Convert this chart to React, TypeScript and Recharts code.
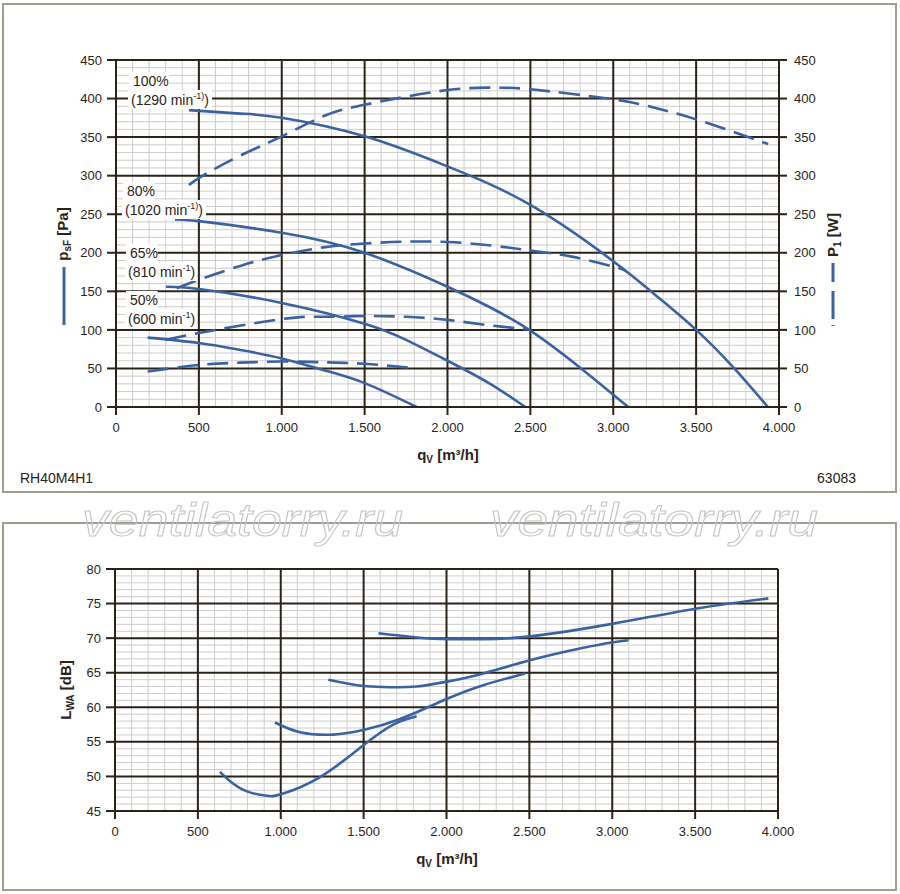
import React from 'react';
import { LineChart, Line, XAxis, YAxis, CartesianGrid } from 'recharts';

// ---------- data ----------
const xTicks = [0, 500, 1000, 1500, 2000, 2500, 3000, 3500, 4000];
const xMinor = [100, 200, 300, 400, 600, 700, 800, 900, 1100, 1200, 1300, 1400, 1600, 1700, 1800, 1900, 2100, 2200, 2300, 2400, 2600, 2700, 2800, 2900, 3100, 3200, 3300, 3400, 3600, 3700, 3800, 3900];
const pTicks = [0, 50, 100, 150, 200, 250, 300, 350, 400, 450];
const pMinor = [10, 20, 30, 40, 60, 70, 80, 90, 110, 120, 130, 140, 160, 170, 180, 190, 210, 220, 230, 240, 260, 270, 280, 290, 310, 320, 330, 340, 360, 370, 380, 390, 410, 420, 430, 440];
const dbTicks = [45, 50, 55, 60, 65, 70, 75, 80];
const dbMinor = [46, 47, 48, 49, 51, 52, 53, 54, 56, 57, 58, 59, 61, 62, 63, 64, 66, 67, 68, 69, 71, 72, 73, 74, 76, 77, 78, 79];

// static pressure psF [Pa]
const psF100 = [
  { q: 440, v: 385 }, { q: 750, v: 380.5 }, { q: 1000, v: 375 }, { q: 1500, v: 351 }, { q: 2000, v: 312 },
  { q: 2500, v: 262 }, { q: 3000, v: 189 }, { q: 3250, v: 146 }, { q: 3500, v: 100 }, { q: 3730, v: 50 }, { q: 3933, v: 0 },
];
const psF80 = [
  { q: 356, v: 243 }, { q: 500, v: 241 }, { q: 1000, v: 226 }, { q: 1500, v: 200 }, { q: 2000, v: 156 },
  { q: 2250, v: 130 }, { q: 2500, v: 99 }, { q: 2800, v: 51 }, { q: 3000, v: 16 }, { q: 3091, v: 0 },
];
const psF65 = [
  { q: 302, v: 156 }, { q: 500, v: 153 }, { q: 1000, v: 135 }, { q: 1500, v: 108 }, { q: 1750, v: 87 },
  { q: 2000, v: 60 }, { q: 2250, v: 31 }, { q: 2470, v: 0 },
];
const psF50 = [
  { q: 191, v: 90 }, { q: 500, v: 83 }, { q: 750, v: 74 }, { q: 1000, v: 63 }, { q: 1250, v: 48 },
  { q: 1500, v: 31 }, { q: 1814, v: 0 },
];

// power input P1 [W]
const p100 = [
  { q: 440, v: 288 }, { q: 547, v: 303 }, { q: 750, v: 326 }, { q: 1000, v: 351 }, { q: 1250, v: 377 },
  { q: 1500, v: 392 }, { q: 2000, v: 411 }, { q: 2300, v: 414 }, { q: 2500, v: 412 }, { q: 3000, v: 399 },
  { q: 3250, v: 388 }, { q: 3500, v: 373 }, { q: 3935, v: 341 },
];
const p80 = [
  { q: 366, v: 154 }, { q: 500, v: 165 }, { q: 750, v: 183 }, { q: 1000, v: 197 }, { q: 1250, v: 207 },
  { q: 1500, v: 212 }, { q: 2000, v: 214 }, { q: 2500, v: 203 }, { q: 2750, v: 195 }, { q: 3000, v: 182 },
  { q: 3081, v: 176 },
];
const p65 = [
  { q: 300, v: 87 }, { q: 500, v: 96 }, { q: 1000, v: 114 }, { q: 1250, v: 117 }, { q: 1500, v: 118 },
  { q: 1750, v: 117 }, { q: 2000, v: 113 }, { q: 2250, v: 106 }, { q: 2480, v: 101 },
];
const p50 = [
  { q: 191, v: 46 }, { q: 500, v: 54.5 }, { q: 750, v: 57.5 }, { q: 1000, v: 59 }, { q: 1250, v: 58 },
  { q: 1500, v: 56 }, { q: 1814, v: 50 },
];

// sound power LWA [dB]
const lw50 = [
  { q: 633, v: 50.65 }, { q: 700, v: 49.2 }, { q: 800, v: 47.8 }, { q: 915, v: 47.2 }, { q: 1006, v: 47.45 },
  { q: 1237, v: 49.9 }, { q: 1498, v: 54.5 }, { q: 1679, v: 57.5 }, { q: 1820, v: 58.7 },
];
const lw65 = [
  { q: 965, v: 57.8 }, { q: 1116, v: 56.4 }, { q: 1317, v: 56.05 }, { q: 1498, v: 56.7 }, { q: 1720, v: 58.3 },
  { q: 2011, v: 61.3 }, { q: 2222, v: 63.2 }, { q: 2474, v: 64.9 },
];
const lw80 = [
  { q: 1287, v: 64.0 }, { q: 1400, v: 63.45 }, { q: 1519, v: 63.05 }, { q: 1660, v: 62.9 }, { q: 1820, v: 63.0 },
  { q: 2011, v: 63.75 }, { q: 2222, v: 64.9 }, { q: 2504, v: 66.8 }, { q: 2826, v: 68.6 }, { q: 3007, v: 69.4 },
  { q: 3098, v: 69.7 },
];
const lw100 = [
  { q: 1589, v: 70.7 }, { q: 1820, v: 70.1 }, { q: 2011, v: 69.85 }, { q: 2222, v: 69.85 }, { q: 2504, v: 70.25 },
  { q: 3007, v: 72.1 }, { q: 3510, v: 74.3 }, { q: 3942, v: 75.75 },
];

// ---------- styles ----------
const FONT = '"Liberation Sans", Arial, Helvetica, sans-serif';
const BLUE = '#3a62a2';
const DARK = '#2b2218';
const MINOR = '#cdcdcd';
const BORDER = '#a19c90';

const fmtX = (v: number) => {
  if (v < 1000) return String(v);
  const t = Math.floor(v / 1000);
  const r = v % 1000;
  return `${t}.${String(r).padStart(3, '0')}`;
};

const vGen = (vals: number[], d0: number, d1: number) => (props: any) => {
  const { xAxis, offset } = props || {};
  return vals.map((v) =>
    xAxis && typeof xAxis.scale === 'function'
      ? xAxis.scale(v)
      : offset.left + ((v - d0) / (d1 - d0)) * offset.width
  );
};
const hGen = (vals: number[], d0: number, d1: number) => (props: any) => {
  const { yAxis, offset } = props || {};
  return vals.map((v) =>
    yAxis && typeof yAxis.scale === 'function'
      ? yAxis.scale(v)
      : offset.top + offset.height - ((v - d0) / (d1 - d0)) * offset.height
  );
};

const tickStyle = { fill: DARK, fontSize: 13, fontFamily: FONT };
const axisLine = { stroke: DARK, strokeWidth: 2 };
const tickLine = { stroke: DARK, strokeWidth: 2 };

function TopChart() {
  return (
    <LineChart
      width={900}
      height={492}
      margin={{ top: 60, right: 71, bottom: 55, left: 66 }}
      style={{ position: 'absolute', left: 0, top: 0 }}
    >
      <CartesianGrid
        yAxisId="left"
        stroke={MINOR}
        strokeWidth={1}
        verticalCoordinatesGenerator={vGen(xMinor, 0, 4000)}
        horizontalCoordinatesGenerator={hGen(pMinor, 0, 450)}
        syncWithTicks={false}
      />
      <CartesianGrid yAxisId="left" stroke={DARK} strokeWidth={2} />
      <XAxis
        dataKey="q"
        type="number"
        domain={[0, 4000]}
        ticks={xTicks}
        interval={0}
        tickFormatter={fmtX}
        tick={tickStyle}
        tickSize={8}
        tickMargin={8}
        axisLine={axisLine}
        tickLine={tickLine}
        height={30}
        allowDataOverflow
      />
      <YAxis
        yAxisId="left"
        type="number"
        domain={[0, 450]}
        ticks={pTicks}
        interval={0}
        tick={tickStyle}
        tickSize={9}
        tickMargin={5}
        axisLine={axisLine}
        tickLine={tickLine}
        width={50}
      />
      <YAxis
        yAxisId="right"
        orientation="right"
        type="number"
        domain={[0, 450]}
        ticks={pTicks}
        interval={0}
        tick={tickStyle}
        tickSize={8}
        tickMargin={7}
        axisLine={axisLine}
        tickLine={tickLine}
        width={50}
      />
      {[psF100, psF80, psF65, psF50].map((d, i) => (
        <Line
          key={'s' + i}
          yAxisId="left"
          data={d}
          dataKey="v"
          type="natural"
          stroke={BLUE}
          strokeWidth={2.6}
          dot={false}
          activeDot={false}
          isAnimationActive={false}
        />
      ))}
      {[p100, p80, p65, p50].map((d, i) => (
        <Line
          key={'p' + i}
          yAxisId="right"
          data={d}
          dataKey="v"
          type="natural"
          stroke={BLUE}
          strokeWidth={2.6}
          strokeDasharray="21 9"
          dot={false}
          activeDot={false}
          isAnimationActive={false}
        />
      ))}
    </LineChart>
  );
}

function BottomChart() {
  return (
    <LineChart
      width={900}
      height={367}
      margin={{ top: 46, right: 122, bottom: 49, left: 65 }}
      style={{ position: 'absolute', left: 0, top: 523 }}
    >
      <CartesianGrid
        stroke={MINOR}
        strokeWidth={1}
        verticalCoordinatesGenerator={vGen(xMinor, 0, 4000)}
        horizontalCoordinatesGenerator={hGen(dbMinor, 45, 80)}
        syncWithTicks={false}
      />
      <CartesianGrid stroke={DARK} strokeWidth={2} />
      <XAxis
        dataKey="q"
        type="number"
        domain={[0, 4000]}
        ticks={xTicks}
        interval={0}
        tickFormatter={fmtX}
        tick={tickStyle}
        tickSize={8}
        tickMargin={8}
        axisLine={axisLine}
        tickLine={tickLine}
        height={30}
        allowDataOverflow
      />
      <YAxis
        type="number"
        domain={[45, 80]}
        ticks={dbTicks}
        interval={0}
        tick={tickStyle}
        tickSize={9}
        tickMargin={5}
        axisLine={axisLine}
        tickLine={tickLine}
        width={50}
      />
      {[lw100, lw80, lw65, lw50].map((d, i) => (
        <Line
          key={'l' + i}
          data={d}
          dataKey="v"
          type="natural"
          stroke={BLUE}
          strokeWidth={2.6}
          dot={false}
          activeDot={false}
          isAnimationActive={false}
        />
      ))}
    </LineChart>
  );
}

function SpeedLabel({ x, y, pct, rpm, extra, w }: { x: number; y: number; pct: string; rpm: string; extra: boolean; w: number }) {
  return (
    <g fontFamily={FONT} fontSize={14} fill={DARK}>
      <rect x={x - 2} y={y - 12} width={pct.length * 8.5 + 6} height={18} fill="#fff" />
      <rect x={x - 3} y={y + 6} width={w} height={19} fill="#fff" />
      <text x={x + 2} y={y + 2}>{pct}</text>
      <text x={x} y={y + 21}>
        {`(${rpm} min`}
        <tspan fontSize={9} dy={-6}>{extra ? '-1)' : '-1'}</tspan>
        <tspan dy={6}>)</tspan>
      </text>
    </g>
  );
}

function Overlay() {
  return (
    <svg
      width={900}
      height={894}
      style={{ position: 'absolute', left: 0, top: 0, pointerEvents: 'none' }}
    >
      {/* panel borders */}
      <rect x={3} y={4} width={893} height={488} fill="none" stroke={BORDER} strokeWidth={2} />
      <rect x={3} y={523} width={893} height={367} fill="none" stroke={BORDER} strokeWidth={2} />

      {/* speed labels */}
      <SpeedLabel x={131} y={84} pct="100%" rpm="1290" extra w={84} />
      <SpeedLabel x={125} y={194} pct="80%" rpm="1020" extra w={84} />
      <SpeedLabel x={128} y={256} pct="65%" rpm="810" extra={false} w={72} />
      <SpeedLabel x={128} y={303} pct="50%" rpm="600" extra={false} w={72} />

      {/* left axis title (top) */}
      <text
        transform="translate(68,234) rotate(-90)"
        textAnchor="middle"
        fontFamily={FONT}
        fontSize={15}
        fontWeight="bold"
        fill={DARK}
      >
        p<tspan fontSize={10} dy={3}>sF</tspan><tspan dy={-3}> [Pa]</tspan>
      </text>
      <line x1={64} y1={267} x2={64} y2={325} stroke={BLUE} strokeWidth={3} />

      {/* right axis title (top) */}
      <text
        transform="translate(838,235) rotate(-90)"
        textAnchor="middle"
        fontFamily={FONT}
        fontSize={15}
        fontWeight="bold"
        fill={DARK}
      >
        P<tspan fontSize={10} dy={3}>1</tspan><tspan dy={-3}> [W]</tspan>
      </text>
      <line x1={833} y1={263} x2={833} y2={326} stroke={BLUE} strokeWidth={3} strokeDasharray="19 9 28 6 1" />

      {/* x axis titles */}
      <text x={448} y={460} textAnchor="middle" fontFamily={FONT} fontSize={15} fontWeight="bold" fill={DARK}>
        q<tspan fontSize={10} dy={3}>V</tspan><tspan dy={-3}> [m³/h]</tspan>
      </text>
      <text x={447} y={864} textAnchor="middle" fontFamily={FONT} fontSize={15} fontWeight="bold" fill={DARK}>
        q<tspan fontSize={10} dy={3}>V</tspan><tspan dy={-3}> [m³/h]</tspan>
      </text>

      {/* bottom chart y title */}
      <text
        transform="translate(71,690) rotate(-90)"
        textAnchor="middle"
        fontFamily={FONT}
        fontSize={15}
        fontWeight="bold"
        fill={DARK}
      >
        L<tspan fontSize={10} dy={3}>WA</tspan><tspan dy={-3}> [dB]</tspan>
      </text>

      {/* footer texts */}
      <text x={20} y={483} fontFamily={FONT} fontSize={14} fill={DARK}>RH40M4H1</text>
      <text x={856} y={483} textAnchor="end" fontFamily={FONT} fontSize={14} fill={DARK}>63083</text>

      {/* watermarks */}
      <text
        x={82}
        y={536}
        fontFamily={FONT}
        fontStyle="italic"
        fontSize={46}
        textLength={321}
        lengthAdjust="spacingAndGlyphs"
        fill="none"
        stroke="#c4c4c4"
        strokeWidth={1}
      >
        ventilatorry.ru
      </text>
      <text
        x={490}
        y={536}
        fontFamily={FONT}
        fontStyle="italic"
        fontSize={46}
        textLength={328}
        lengthAdjust="spacingAndGlyphs"
        fill="none"
        stroke="#c4c4c4"
        strokeWidth={1}
      >
        ventilatorry.ru
      </text>
    </svg>
  );
}

export default function App() {
  return (
    <div style={{ position: 'absolute', left: 0, top: 0, width: 900, height: 894, background: '#fff', fontFamily: FONT }}>
      <TopChart />
      <BottomChart />
      <Overlay />
    </div>
  );
}
